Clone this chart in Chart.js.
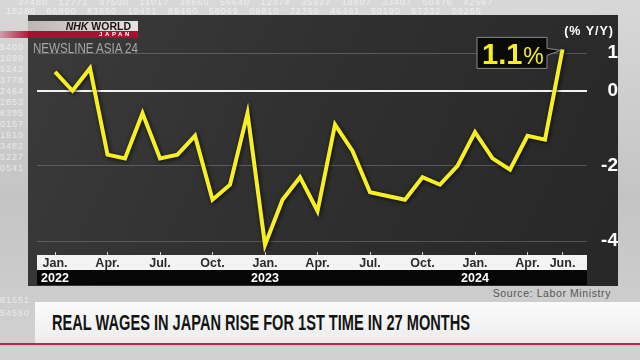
<!DOCTYPE html>
<html>
<head>
<meta charset="utf-8">
<script src="https://cdn.jsdelivr.net/npm/chart.js@4.4.1/dist/chart.umd.min.js"></script>
<style>
    html, body { margin: 0; padding: 0; }
    body {
        width: 640px; height: 360px; overflow: hidden; position: relative;
        font-family: "Liberation Sans", Arial, sans-serif;
        background: linear-gradient(180deg, #d8d8d8 0%, #c4c4c4 55%, #d2d2d2 100%);
    }
    .nums { position: absolute; font-size: 9px; color: rgba(255, 255, 255, 0.6); white-space: nowrap; letter-spacing: 1px; }
    #panel {
        position: absolute; left: 28px; top: 15px; width: 590px; height: 271px;
        background: linear-gradient(115deg, #3b3b3b 0%, #303030 45%, #272727 100%);
    }
    #panel canvas { position: absolute; left: 0; top: 0; }
    #logo {
        position: absolute; left: 28px; top: 21px; width: 110px; height: 10px;
        background: linear-gradient(90deg, #b8b8b8, #e4e4e4);
    }
    #logo span { position: absolute; right: 7px; top: 0; font: bold 10.5px/10px "Liberation Sans"; color: #151515; }
    #logo b { font-style: italic; }
    #red {
        position: absolute; left: 0; top: 31px; width: 138px; height: 7px;
        background: linear-gradient(90deg, rgba(200, 60, 90, 0.35), #a8122e 22%, #a8122e);
    }
    #red span { position: absolute; right: 6px; top: 0; font: bold 6px/7px "Liberation Sans"; color: #fff; letter-spacing: 2.6px; }
    #newsline { position: absolute; left: 33px; top: 41px; font: 14px/14px "Liberation Sans"; color: #a6a6a6; white-space: nowrap; transform-origin: left top; }
    #unit { position: absolute; right: 26px; top: 25px; font: bold 12.5px/12.5px "Liberation Sans"; color: #fff; letter-spacing: 1px; }
    #source { position: absolute; right: 29px; top: 288px; font: 10.5px/10.5px "Liberation Sans"; color: #555; letter-spacing: 0.6px; }
    #cap {
        position: absolute; left: 35px; top: 302px; width: 605px; height: 41px;
        background: linear-gradient(180deg, #fbfbfb, #ececec);
    }
    #capline { position: absolute; left: 0; top: 343px; width: 640px; height: 2px; background: #c42343; }
    #title { position: absolute; left: 52px; top: 312px; font: bold 22px/22px "Liberation Sans"; color: #141414; white-space: nowrap; transform-origin: left top; }
</style>
</head>
<body>
<div class="nums" style="left:18px; top:-3px;">37480 &nbsp; 12771 &nbsp; 37500 &nbsp; 11017 &nbsp; 38660 &nbsp; 56640 &nbsp; 12374 &nbsp; 35927 &nbsp; 18807 &nbsp; 33407 &nbsp; 50476 &nbsp; 42567</div>
<div class="nums" style="left:6px; top:6px;">18280 &nbsp; 66890 &nbsp; 83650 &nbsp; 10451 &nbsp; 89460 &nbsp; 58069 &nbsp; 09810 &nbsp; 72750 &nbsp; 46461 &nbsp; 50190 &nbsp; 67332 &nbsp; 08255</div>
<div class="nums" style="left:0; top:42px; line-height:11px;">5400<br>1090<br>5242<br>3778<br>2464<br>2853<br>8395<br>0157<br>1910<br>3482<br>5227<br>0541</div>
<div class="nums" style="left:0; top:294px; line-height:13px;">81551<br>54580 &nbsp; 92555 &nbsp; 50168</div>

<div id="panel"><canvas id="chart" width="590" height="271"></canvas></div>
<div id="red"><span>JAPAN</span></div>
<div id="logo"><span><b>NHK</b> WORLD</span></div>
<div id="newsline" data-w="105">NEWSLINE ASIA 24</div>
<div id="unit">(% Y/Y)</div>
<div id="source">Source: Labor Ministry</div>
<div id="cap"></div>
<div id="capline"></div>
<div id="title" data-w="418">REAL WAGES IN JAPAN RISE FOR 1ST TIME IN 27 MONTHS</div>

<script>
// real wages, % change year on year, Jan. 2022 - Jun. 2024
const months = [
    'Jan.', 'Feb.', 'Mar.', 'Apr.', 'May', 'Jun.', 'Jul.', 'Aug.', 'Sep.', 'Oct.', 'Nov.', 'Dec.',
    'Jan.', 'Feb.', 'Mar.', 'Apr.', 'May', 'Jun.', 'Jul.', 'Aug.', 'Sep.', 'Oct.', 'Nov.', 'Dec.',
    'Jan.', 'Feb.', 'Mar.', 'Apr.', 'May', 'Jun.'
];
const realWages = [
    0.5, 0.0, 0.6, -1.7, -1.8, -0.6, -1.8, -1.7, -1.2, -2.9, -2.5, -0.6,
    -4.1, -2.9, -2.3, -3.2, -0.9, -1.6, -2.7, -2.8, -2.9, -2.3, -2.5, -2.0,
    -1.1, -1.8, -2.1, -1.2, -1.3, 1.1
];
const monthTicks = [0, 3, 6, 9, 12, 15, 18, 21, 24, 27, 29];
const years = ['2022', '2023', '2024'];
const yearTicks = [0, 12, 24];
const yTicks = [1, 0, -2, -4];

// squeeze condensed captions to their width in the picture
document.querySelectorAll('[data-w]').forEach(el => {
    const w = el.getBoundingClientRect().width;
    el.style.transform = `scaleX(${el.dataset.w / w})`;
});

const bandPlugin = {
    id: 'bands',
    beforeDraw(chart) {
        const { ctx, chartArea } = chart;
        const mx = chart.scales.x;
        const yx = chart.scales.year;
        const w = chartArea.right - chartArea.left;
        ctx.save();
        ctx.fillStyle = '#f3f3f3';
        ctx.fillRect(chartArea.left, mx.top + 3, w, mx.bottom - mx.top - 3);
        ctx.fillStyle = '#060606';
        ctx.fillRect(chartArea.left, yx.top, w, 15);
        ctx.restore();
    }
};

const glowPlugin = {
    id: 'glow',
    beforeDatasetDraw(chart) {
        const c = chart.ctx;
        c.save();
        c.shadowColor = 'rgba(0, 0, 0, 0.8)';
        c.shadowBlur = 4;
        c.shadowOffsetX = 1;
        c.shadowOffsetY = 1;
    },
    afterDatasetDraw(chart) {
        chart.ctx.restore();
    }
};

const calloutPlugin = {
    id: 'callout',
    afterDatasetsDraw(chart) {
        const meta = chart.getDatasetMeta(0);
        const last = meta.data[meta.data.length - 1];
        const px = last.x, py = last.y;
        const ctx = chart.ctx;
        const left = px - 85.5, right = px - 15.5, top = py - 12, bottom = py + 19;
        ctx.save();
        ctx.beginPath();
        ctx.moveTo(left, top);
        ctx.lineTo(right, top);
        ctx.lineTo(right, py - 1);
        ctx.lineTo(px - 2, py + 1);
        ctx.lineTo(right, py + 6);
        ctx.lineTo(right, bottom);
        ctx.lineTo(left, bottom);
        ctx.closePath();
        ctx.fillStyle = '#0a0a0a';
        ctx.fill();
        ctx.strokeStyle = '#8a8a8a';
        ctx.lineWidth = 1;
        ctx.stroke();

        const value = realWages[realWages.length - 1].toFixed(1);
        ctx.fillStyle = '#f7ef22';
        ctx.textBaseline = 'alphabetic';
        ctx.textAlign = 'left';
        ctx.font = 'bold 29px "Liberation Sans"';
        ctx.fillText(value, left + 5, py + 14.5);
        const vw = ctx.measureText(value).width;
        ctx.font = '23px "Liberation Sans"';
        ctx.fillText('%', left + 6 + vw, py + 14.5);
        ctx.restore();
    }
};

const tickFont = { family: 'Liberation Sans', size: 12.5, weight: 'bold' };

new Chart(document.getElementById('chart'), {
    type: 'line',
    data: {
        datasets: [{
            data: realWages.map((v, i) => ({ x: i, y: v })),
            borderColor: '#f7ef22',
            borderWidth: 4,
            borderJoinStyle: 'miter',
            pointRadius: 0,
            tension: 0
        }]
    },
    options: {
        responsive: false,
        animation: false,
        devicePixelRatio: 1,
        layout: { padding: { left: 9, top: 12, right: 0, bottom: 0 } },
        plugins: {
            legend: { display: false },
            tooltip: { enabled: false }
        },
        scales: {
            x: {
                type: 'linear',
                min: -1.03,
                max: 30.4,
                position: 'bottom',
                weight: 0,
                afterBuildTicks: s => { s.ticks = monthTicks.map(v => ({ value: v })); },
                afterFit: s => { s.height = 18; },
                grid: { drawOnChartArea: false, drawTicks: true, tickLength: 3, color: '#d0d0d0' },
                border: { display: false },
                ticks: {
                    autoSkip: false,
                    maxRotation: 0,
                    padding: 1,
                    color: '#2a2a2a',
                    font: tickFont,
                    callback: v => months[v]
                }
            },
            year: {
                type: 'linear',
                axis: 'x',
                min: -1.03,
                max: 30.4,
                position: 'bottom',
                weight: 1,
                afterBuildTicks: s => { s.ticks = yearTicks.map(v => ({ value: v })); },
                afterFit: s => { s.height = 16; },
                grid: { display: false, drawTicks: false },
                border: { display: false },
                ticks: {
                    autoSkip: false,
                    maxRotation: 0,
                    padding: 1,
                    color: '#ffffff',
                    font: tickFont,
                    callback: v => years[yearTicks.indexOf(v)]
                }
            },
            y: {
                min: -4.2895,
                max: 1.6316,
                position: 'right',
                afterBuildTicks: s => { s.ticks = yTicks.map(v => ({ value: v })); },
                afterFit: s => { s.width = 31; },
                grid: {
                    drawTicks: false,
                    color: c => c.tick.value === 0 ? '#f2f2f2' : 'rgba(255, 255, 255, 0.2)',
                    lineWidth: c => c.tick.value === 0 ? 2 : 1
                },
                border: { display: false },
                ticks: {
                    crossAlign: 'far',
                    padding: 3,
                    color: '#ffffff',
                    font: { family: 'Liberation Sans', size: 19, weight: 'bold' }
                }
            }
        }
    },
    plugins: [bandPlugin, glowPlugin, calloutPlugin]
});
</script>
</body>
</html>
